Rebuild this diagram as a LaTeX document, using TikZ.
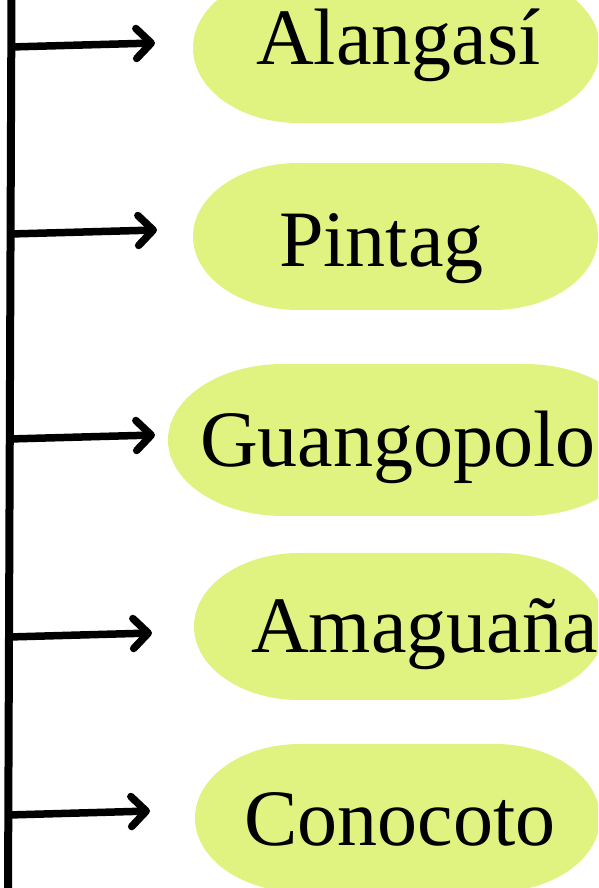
\documentclass[tikz,border=0pt]{standalone}
\usepackage{fontspec}
\setmainfont{Liberation Serif}
\usetikzlibrary{arrows.meta}
\definecolor{lime}{RGB}{224,243,128}
\tikzset{
  pill/.style={fill=lime, draw=none},
  label/.style={anchor=base west, inner sep=0pt, font=\fontsize{80pt}{90pt}\selectfont},
  trunk/.style={line width=8pt},
  branch/.style={line width=7.5pt, -{Straight Barb[length=15pt, width=30pt, round]}}
}
\newcommand{\pillshape}[5]{% L R T B rx
  \pgfmathsetmacro{\ry}{(#3-#4)/2}
  \fill[pill] (#1+#5,#3) -- (#2-#5,#3)
     arc[start angle=90, end angle=-90, x radius=#5, y radius=\ry]
     -- (#1+#5,#4)
     arc[start angle=270, end angle=90, x radius=#5, y radius=\ry] -- cycle;
}
\begin{document}
\begin{tikzpicture}[x=1pt, y=1pt]
\useasboundingbox (0,0) rectangle (598,888);
\clip (0,0) rectangle (598,888);
% shapes
\pillshape{193}{600}{915}{765}{105}
\pillshape{193}{598}{725}{578}{105}
\pillshape{168}{640}{524}{372}{115}
\pillshape{194}{605}{335}{188}{105}
\pillshape{195}{600}{144}{-4}{105}
% labels
\node[label] (alangasi) at (256,823) {Alangasí};
\node[label] (pintag) at (279,621) {Pintag};
\node[label] (guangopolo) at (200,421) {Guangopolo};
\node[label] (amaguana) at (251,235) {Amaguaña};
\node[label] (conocoto) at (244,42) {Conocoto};
% trunk
\coordinate (ttop) at (11.5,895);
\coordinate (tbot) at (8,-8);
\draw[trunk] (ttop) -- (tbot);
% branch points
\coordinate (s1) at (11,841);
\coordinate (e1) at (155,845);
\coordinate (s2) at (10.5,654);
\coordinate (e2) at (157,658);
\coordinate (s3) at (9.5,449);
\coordinate (e3) at (155,453);
\coordinate (s4) at (9,251);
\coordinate (e4) at (152,255);
\coordinate (s5) at (8.5,73);
\coordinate (e5) at (150,77);
\draw[branch] (s1) -- (e1);
\draw[branch] (s2) -- (e2);
\draw[branch] (s3) -- (e3);
\draw[branch] (s4) -- (e4);
\draw[branch] (s5) -- (e5);
\end{tikzpicture}
\end{document}
